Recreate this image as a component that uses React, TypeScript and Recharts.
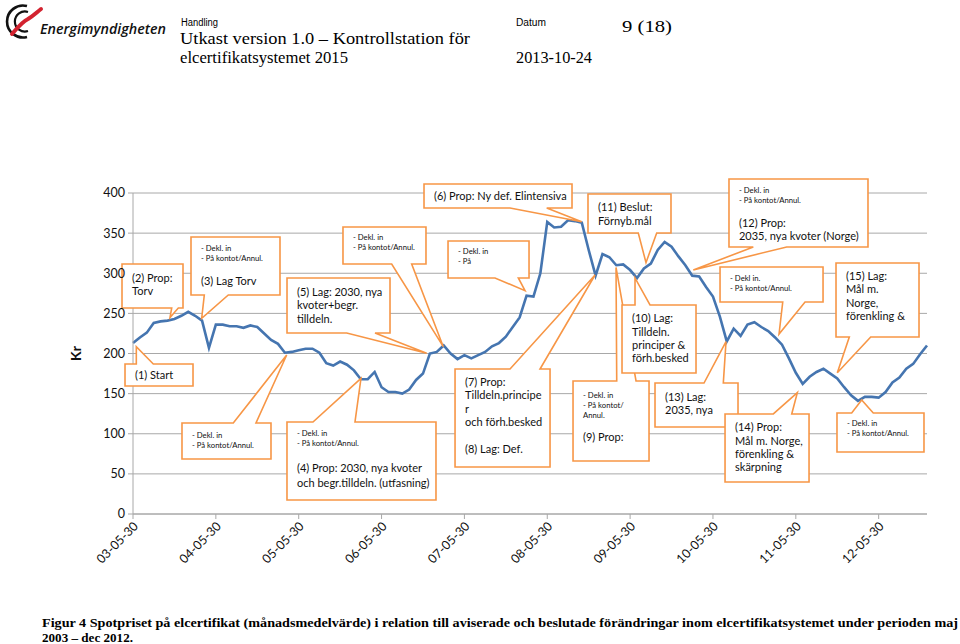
import React from 'react';
import { LineChart, Line, XAxis, YAxis, CartesianGrid, ReferenceDot } from 'recharts';

// Monthly average spot price of electricity certificates, May 2003 – Dec 2012 (kr)
const PRICES: number[] = [
  213, 220, 226, 238, 240, 241, 243, 247, 252, 247, 241, 207, 236, 236, 234, 234, 232, 235, 233, 225,
  217, 212, 201, 202, 204, 206, 206, 201, 188, 185, 190, 186, 179, 168, 168, 177, 158, 152, 152, 150,
  155, 167, 175, 200, 202, 210, 200, 193, 198, 194, 198, 202, 209, 213, 221, 233, 245, 272, 271, 300,
  364, 357, 358, 366, 365, 363, 329, 297, 324, 320, 310, 311, 304, 294, 306, 312, 329, 339, 333, 321,
  310, 297, 296, 283, 271, 246, 215, 231, 222, 236, 239, 233, 228, 220, 211, 194, 176, 162, 171, 177,
  181, 175, 169, 158, 148, 141, 146, 146, 145, 152, 164, 170, 181, 187, 199, 210,
];

const X_TICKS: number[] = [0, 12, 24, 36, 48, 60, 72, 84, 96, 108];
const X_TICK_LABELS: string[] = [
  '03-05-30', '04-05-30', '05-05-30', '06-05-30', '07-05-30',
  '08-05-30', '09-05-30', '10-05-30', '11-05-30', '12-05-30',
];
const Y_TICKS: number[] = [0, 50, 100, 150, 200, 250, 300, 350, 400];

// Callout texts (small "Dekl." lines and main lines)
const CALLOUT_SMALL: string[][] = [
  [],
  [],
  ['- Dekl. in', '- På kontot/Annul.'],
  ['- Dekl. in', '- På kontot/Annul.'],
  ['- Dekl. in', '- På kontot/Annul.'],
  ['- Dekl. in', '- På kontot/Annul.'],
  [],
  [],
  ['- Dekl. in', '- På'],
  [],
  ['- Dekl. in', '- På kontot/', 'Annul.'],
  [],
  [],
  ['- Dekl. in', '- På kontot/Annul.'],
  ['- Dekl in.', '- På kontot/Annul.'],
  [],
  [],
  [],
  ['- Dekl. in', '- På kontot/Annul.'],
];
const CALLOUT_LARGE: string[][] = [
  ['(1) Start'],
  ['(2) Prop:', 'Torv'],
  ['(3) Lag Torv'],
  [],
  ['(4) Prop: 2030, nya kvoter', 'och begr.tilldeln. (utfasning)'],
  [],
  ['(5) Lag: 2030, nya', 'kvoter+begr.', 'tilldeln.'],
  ['(6) Prop: Ny def. Elintensiva'],
  [],
  ['(7) Prop:', 'Tilldeln.principe', 'r', 'och förh.besked', '', '(8) Lag: Def.'],
  ['(9) Prop:'],
  ['(10) Lag:', 'Tilldeln.', 'principer &', 'förh.besked'],
  ['(11) Beslut:', 'Förnyb.mål'],
  ['(12) Prop:', '2035, nya kvoter (Norge)'],
  [],
  ['(13) Lag:', '2035, nya'],
  ['(14) Prop:', 'Mål m. Norge,', 'förenkling &', 'skärpning'],
  ['(15) Lag:', 'Mål m.', 'Norge,', 'förenkling &'],
  [],
];
// Where each callout points (month index, kr)
const CALLOUT_TIP_X: number[] = [
  0.48, 5.36, 9.95, 22.26, 33.02, 44.94, 42.54, 64.99, 56.78, 66.92,
  69.96, 72.71, 74.3, 81.15, 93.57, 85.89, 96.22, 102.01, 105.54,
];
const CALLOUT_TIP_Y: number[] = [
  208.5, 244.9, 243.9, 198.1, 169.1, 208.5, 200.3, 364.2, 278.3, 297.8,
  307.2, 294.1, 313.2, 304.1, 224.3, 214.7, 151.2, 176.1, 142.1,
];

// Callout box layout relative to tip (pixels)
type Layout = { box: number[]; side: 'top' | 'bottom'; base: number[]; pad?: number; gap?: number; step?: number };
const CALLOUT_LAYOUT: Layout[] = [
  { box: [-11.3, 17.3, 68, 22], side: 'top', base: [0, 17], pad: 15 },
  { box: [-48, -53.5, 61, 44], side: 'bottom', base: [1.7, 8.3], pad: 18, step: 13.5 },
  { box: [-10.7, -81.3, 89, 58], side: 'bottom', base: [2.6, 26.6] },
  { box: [-104.7, 68, 89, 36], side: 'top', base: [-53.4, -30.7], pad: 15 },
  { box: [-74, 43.7, 149, 78], side: 'top', base: [-48, -6], gap: 26.5, step: 15 },
  { box: [-100.3, -119.7, 83, 37], side: 'bottom', base: [-51.6, -31.6], pad: 13 },
  { box: [-139.7, -75.3, 103, 55], side: 'bottom', base: [-80, -51.7], pad: 18 },
  { box: [-157.7, -37.7, 148, 24], side: 'bottom', base: [-71.7, -35], pad: 16 },
  { box: [-77, -49.7, 81, 37], side: 'bottom', base: [-30, -6.7], pad: 13.5 },
  { box: [-140, 94, 95, 98], side: 'top', base: [-85, -55], pad: 17 },
  { box: [-43, 113.5, 76, 80], side: 'top', base: [0.7, 20], pad: 17, gap: 23.5 },
  { box: [-13, 27, 74, 68], side: 'top', base: [0, 15], pad: 17.5 },
  { box: [-58, -68.7, 83, 39], side: 'bottom', base: [-7.7, 10.7], pad: 17.5 },
  { box: [35.7, -91, 139, 68], side: 'bottom', base: [60, 93.4], pad: 14 },
  { box: [-59, -67, 103, 35], side: 'bottom', base: [3.7, 26], pad: 14 },
  { box: [-71, 41.3, 83, 44], side: 'top', base: [-22, -2.7], pad: 18 },
  { box: [-72.3, 21.3, 84, 68], side: 'top', base: [-24, -5.6], pad: 17.5 },
  { box: [-1.3, -109.7, 83, 74], side: 'bottom', base: [12, 33.4], pad: 17 },
  { box: [-24.7, 13, 87, 39], side: 'top', base: [-10, 11.6], pad: 13 },
];

const DATA = PRICES.map((v, i) => ({ i, v }));

const FONT = 'Lato, "Open Sans", sans-serif';
const ORANGE = '#F79646';
const LINE_BLUE = '#4575B0';
const GRID = '#A8A8A8';

function makeCallout(k: number) {
  return (props: any) => {
    const { cx, cy } = props;
    if (cx == null || cy == null) return <g />;
    const L = CALLOUT_LAYOUT[k];
    const [dx, dy, w, h] = L.box;
    const x0 = cx + dx;
    const y0 = cy + dy;
    const x1 = x0 + w;
    const y1 = y0 + h;
    const b1 = cx + L.base[0];
    const b2 = cx + L.base[1];
    const d =
      L.side === 'top'
        ? `M${x0},${y0} H${b1} L${cx},${cy} L${b2},${y0} H${x1} V${y1} H${x0} Z`
        : `M${x0},${y0} H${x1} V${y1} H${b2} L${cx},${cy} L${b1},${y1} H${x0} Z`;
    const small = CALLOUT_SMALL[k];
    const large = CALLOUT_LARGE[k];
    const els: React.ReactNode[] = [];
    let yb = y0 + (L.pad ?? (small.length ? 14 : 17.5));
    small.forEach((t, j) => {
      els.push(
        <text key={'s' + j} x={x0 + 10} y={yb} fontSize={7.7} fontFamily={FONT} fill="#111">
          {t}
        </text>
      );
      yb += 10;
    });
    if (small.length) yb += (L.gap ?? 24) - 10;
    large.forEach((t, j) => {
      if (t) {
        els.push(
          <text key={'l' + j} x={x0 + 10} y={yb} fontSize={11} fontFamily={FONT} fill="#111">
            {t}
          </text>
        );
      }
      yb += L.step ?? 13.3;
    });
    return (
      <g>
        <path d={d} fill="#fff" stroke={ORANGE} strokeWidth={1.6} strokeLinejoin="miter" />
        {els}
      </g>
    );
  };
}

const XTick = (props: any) => {
  const { x, payload } = props;
  const idx = X_TICKS.indexOf(payload.value);
  const label = idx >= 0 ? X_TICK_LABELS[idx] : '';
  const tx = x + 6;
  const ty = 527;
  return (
    <text
      x={tx}
      y={ty}
      transform={`rotate(-45, ${tx}, ${ty})`}
      textAnchor="end"
      fontSize={12.5}
      fontFamily={FONT}
      fill="#111"
    >
      {label}
    </text>
  );
};

const YLabel = (props: any) => {
  const vb = props.viewBox || { x: 0, y: 193, width: 133, height: 321 };
  const cx = 75;
  const cy = vb.y + vb.height / 2;
  return (
    <text
      x={cx}
      y={cy}
      transform={`rotate(-90, ${cx}, ${cy})`}
      textAnchor="middle"
      dominantBaseline="central"
      fontSize={14}
      fontWeight="bold"
      fontFamily={FONT}
      fill="#111"
    >
      Kr
    </text>
  );
};

const Header = () => (
  <svg
    width={960}
    height={644}
    style={{ position: 'absolute', left: 0, top: 0, pointerEvents: 'none' }}
  >
    {/* logo */}
    <path d="M 27 6 A 16 16 0 1 0 27 37" fill="none" stroke="#111" strokeWidth={2.6} />
    <path d="M 28 12 A 10 10 0 1 0 28 31" fill="none" stroke="#111" strokeWidth={2.2} />
    <path
      d="M 12 34 C 18 27, 22 22, 28 19 C 33 16, 36 13, 41 9"
      fill="none"
      stroke="#D32330"
      strokeWidth={4}
      strokeLinecap="round"
    />
    <text
      x={40}
      y={34}
      fontSize={15}
      fontStyle="italic"
      fontWeight={600}
      fontFamily='"Open Sans", sans-serif'
      textLength={126}
      lengthAdjust="spacingAndGlyphs"
      fill="#111"
    >
      Energimyndigheten
    </text>
    <text x={181} y={26} fontSize={10} fontFamily='"Liberation Sans", Arial, sans-serif' textLength={37} lengthAdjust="spacingAndGlyphs">
      Handling
    </text>
    <text x={180} y={44} fontSize={17} fontFamily='"Liberation Serif", serif' textLength={290} lengthAdjust="spacingAndGlyphs">
      Utkast version 1.0 – Kontrollstation för
    </text>
    <text x={180} y={63} fontSize={17} fontFamily='"Liberation Serif", serif' textLength={168} lengthAdjust="spacingAndGlyphs">
      elcertifikatsystemet 2015
    </text>
    <text x={516} y={26} fontSize={10} fontFamily='"Liberation Sans", Arial, sans-serif' textLength={30} lengthAdjust="spacingAndGlyphs">
      Datum
    </text>
    <text x={516} y={63} fontSize={17} fontFamily='"Liberation Serif", serif' textLength={76} lengthAdjust="spacingAndGlyphs">
      2013-10-24
    </text>
    <text x={622} y={32} fontSize={17.5} fontFamily='"Liberation Serif", serif' textLength={50} lengthAdjust="spacingAndGlyphs">
      9 (18)
    </text>
    {/* caption */}
    <text
      x={42}
      y={627}
      fontSize={13.5}
      fontWeight="bold"
      fontFamily='"Liberation Serif", serif'
      textLength={916}
      lengthAdjust="spacingAndGlyphs"
    >
      Figur 4 Spotpriset på elcertifikat (månadsmedelvärde) i relation till aviserade och beslutade förändringar inom elcertifikatsystemet under perioden maj
    </text>
    <text x={42} y={642} fontSize={13.5} fontWeight="bold" fontFamily='"Liberation Serif", serif' textLength={91} lengthAdjust="spacingAndGlyphs">
      2003 – dec 2012.
    </text>
  </svg>
);

export default function App() {
  return (
    <div
      style={{
        position: 'absolute',
        left: 0,
        top: 0,
        width: 960,
        height: 644,
        background: '#fff',
        overflow: 'hidden',
      }}
    >
      <div style={{ position: 'absolute', left: 0, top: 0 }}>
        <LineChart
          width={960}
          height={644}
          data={DATA}
          margin={{ top: 193, right: 33, bottom: 70, left: 0 }}
        >
          <CartesianGrid horizontal vertical={false} stroke={GRID} strokeWidth={1} />
          <XAxis
            dataKey="i"
            type="number"
            domain={[0, 115]}
            ticks={X_TICKS}
            interval={0}
            height={60}
            stroke={GRID}
            tickSize={5}
            tick={<XTick />}
            allowDecimals={false}
          />
          <YAxis
            type="number"
            domain={[0, 400]}
            ticks={Y_TICKS}
            interval={0}
            width={133}
            stroke={GRID}
            tickSize={5}
            tickMargin={3}
            tick={{ fontSize: 12.5, fontFamily: FONT, fill: '#111' }}
            label={<YLabel />}
          />
          <Line
            dataKey="v"
            type="linear"
            stroke={LINE_BLUE}
            strokeWidth={2.6}
            dot={false}
            activeDot={false}
            isAnimationActive={false}
          />
          {CALLOUT_TIP_X.map((tx, k) => (
            <ReferenceDot
              key={k}
              x={tx}
              y={CALLOUT_TIP_Y[k]}
              r={0}
              ifOverflow="visible"
              shape={makeCallout(k)}
            />
          ))}
        </LineChart>
      </div>
      <Header />
    </div>
  );
}
